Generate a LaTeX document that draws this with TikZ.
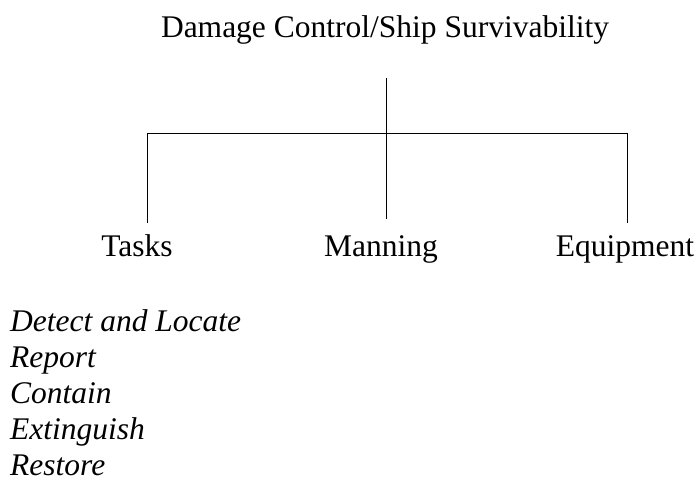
\documentclass[tikz,border=0pt]{standalone}
\usepackage{fontspec}
\setmainfont{Liberation Serif}
\begin{document}
\begin{tikzpicture}[x=1pt,y=-1pt,
    lbl/.style={font=\fontsize{31.5}{36}\selectfont,inner sep=0pt,anchor=base},
    item/.style={lbl,font=\fontsize{31.5}{36}\selectfont\itshape,anchor=base west}]
      \useasboundingbox (0,0) rectangle (699,483);
      \node[lbl] (title) at (385,37) {Damage Control/Ship Survivability};
      \coordinate (top) at (386,78);
      \coordinate (midL) at (147,133);
      \coordinate (midR) at (627,133);
      \coordinate (endL) at (147,223);
      \coordinate (endM) at (386,219);
      \coordinate (endR) at (627,223);
      \draw[line width=1pt] (top) -- (endM);
      \draw[line width=1pt] (endL) -- (midL) -- (midR) -- (endR);
      \node[lbl] (tasks) at (137,256) {Tasks};
      \node[lbl] (manning) at (381,256) {Manning};
      \node[lbl] (equip) at (625,256) {Equipment};
      \foreach \t [count=\i] in {Detect and Locate,Report,Contain,Extinguish,Restore}
        \node[item] (task\i) at (10,295+36*\i) {\t};
    \end{tikzpicture}
\end{document}
